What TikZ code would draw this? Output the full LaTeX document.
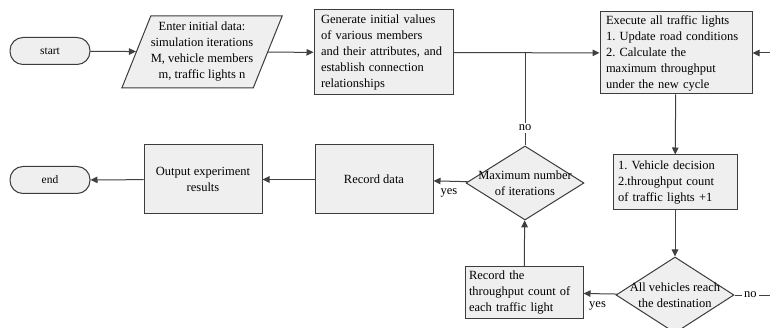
\documentclass[tikz,border=0pt]{standalone}
\usepackage{fontspec}
\setmainfont{Liberation Serif}
\usetikzlibrary{shapes.geometric,arrows.meta}

\definecolor{boxfill}{HTML}{EFEFEF}
\definecolor{boxline}{HTML}{3C3C3C}
\definecolor{linecol}{HTML}{404040}

\begin{document}
\begin{tikzpicture}[x=1pt,y=-1pt,
    every node/.style={font=\fontsize{12.5}{16}\selectfont},
    box/.style={draw=boxline,fill=boxfill,line width=1pt,rectangle,inner ysep=3pt},
    term/.style={draw=boxline,fill=boxfill,line width=1pt,rounded corners=13pt,
        minimum width=80pt,minimum height=27pt,font=\fontsize{11.5}{13}\selectfont},
    inbox/.style={draw=boxline,fill=boxfill,line width=1pt,trapezium,
        trapezium left angle=64,trapezium right angle=116,trapezium stretches body,
        minimum width=135pt,minimum height=72pt,inner sep=0pt,align=center},
    dia/.style={draw=boxline,fill=boxfill,line width=1pt,diamond,inner sep=0pt,
        minimum width=118pt},
    lbl/.style={inner sep=2pt},
    flow/.style={draw=linecol,line width=1pt,-{Triangle[length=7pt,width=6.5pt]}},
    line/.style={draw=linecol,line width=1pt}]
    \useasboundingbox (0,0) rectangle (770,328);

    \node[term] (start) at (50,51) {start};
    \node[inbox] (input) at (202,52) {Enter initial data:\\simulation iterations\\M, vehicle members\\m, traffic lights n};
    \node[box,align=left,text width=125pt,inner xsep=7pt,minimum height=85pt] (gen) at (383.5,52.5) {Generate initial values\\of various members\\and their attributes, and\\establish connection\\relationships};
    \node[box,align=left,text width=140pt,inner xsep=6pt,minimum height=82pt] (exec) at (676,53) {Execute all traffic lights\\1.\ Update road conditions\\2.\ Calculate the\\maximum throughput\\under the new cycle};
    \node[box,align=left,text width=114pt,inner xsep=5pt,minimum height=55pt] (veh) at (675,182.5) {1.\ Vehicle decision\\2.throughput count\\of traffic lights +1};
    \node[dia,minimum height=76pt,label={[align=center]center:All vehicles reach\\the destination}] (allveh) at (675,295) {};
    \node[box,align=left,text width=110pt,inner xsep=4pt,minimum height=51pt] (recthr) at (524,292.5) {Record the\\throughput count of\\each traffic light};
    \node[dia,minimum height=74pt,label={[align=center]center:Maximum number\\of iterations}] (maxit) at (525,183) {};
    \node[box,align=center,minimum width=118pt,minimum height=69pt] (recdata) at (374,179.5) {Record data};
    \node[box,align=center,minimum width=118pt,minimum height=69pt] (output) at (203,179.5) {Output experiment\\results};
    \node[term] (end) at (50,180) {end};

    \coordinate (jn) at (525,52.5);
    \coordinate (rin) at (770,53);
    \coordinate (rout) at (770,295);

    \draw[flow] (start) -- (input);
    \draw[flow] (input) -- (gen);
    \draw[flow] (gen) -- (exec);
    \draw[flow] (rin) -- (exec);
    \draw[flow] (exec) -- (veh);
    \draw[flow] (veh) -- (allveh);
    \draw[flow] (allveh) -- node[pos=0.58,below,lbl,yshift=-5pt] {yes} (recthr);
    \draw[line] (allveh) -- node[pos=0.45,fill=white,lbl] {no} (rout);
    \draw[flow] (recthr) -- (maxit);
    \draw[flow] (maxit) -- node[pos=0.55,below,lbl,yshift=-5pt] {yes} (recdata);
    \draw[line] (maxit) -- node[pos=0.19,fill=white,lbl] {no} (jn);
    \draw[flow] (recdata) -- (output);
    \draw[flow] (output) -- (end);
\end{tikzpicture}
\end{document}
